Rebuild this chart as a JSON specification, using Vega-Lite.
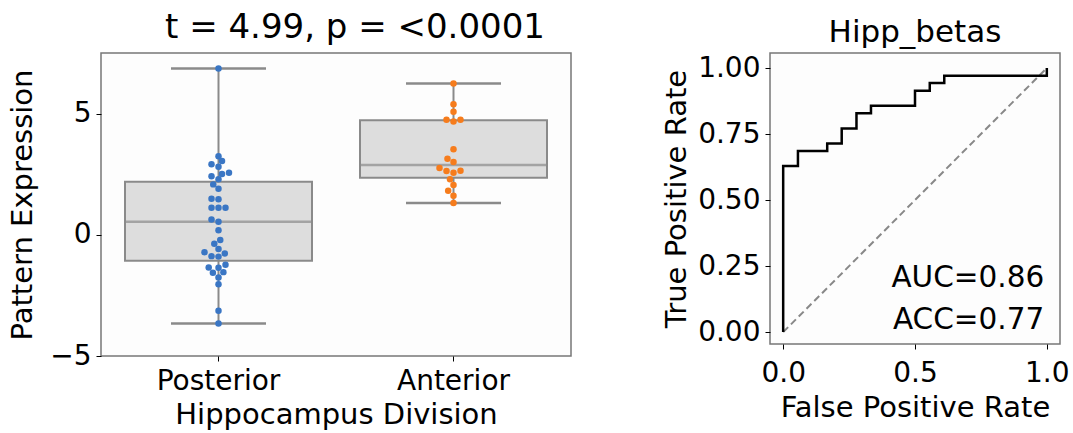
{
  "$schema": "https://vega.github.io/schema/vega-lite/v6.json",
  "background": "white",
  "padding": {"left": 7, "top": 10, "right": 3, "bottom": 3},
  "config": {
    "font": "DejaVu Sans",
    "view": {"stroke": "#777777", "strokeWidth": 1.5, "fill": "#fdfdfd"},
    "axis": {
      "domain": false,
      "grid": false,
      "tickColor": "#000000",
      "tickSize": 5,
      "tickWidth": 1,
      "labelColor": "#000000",
      "labelFont": "DejaVu Sans",
      "labelFontSize": 28,
      "titleFont": "DejaVu Sans",
      "titleFontSize": 29,
      "titleFontWeight": "normal",
      "titleColor": "#000000"
    },
    "title": {"font": "DejaVu Sans", "fontWeight": "normal", "color": "#000000"}
  },
  "spacing": 89,
  "datasets": {
    "pattern": [
      {"division": "Posterior", "value": 6.86, "slot": 0},
      {"division": "Posterior", "value": 3.24, "slot": 0},
      {"division": "Posterior", "value": 3.04, "slot": 0.5},
      {"division": "Posterior", "value": 2.91, "slot": -1},
      {"division": "Posterior", "value": 2.81, "slot": 0},
      {"division": "Posterior", "value": 2.56, "slot": 1.5},
      {"division": "Posterior", "value": 2.51, "slot": 0.5},
      {"division": "Posterior", "value": 2.42, "slot": -1},
      {"division": "Posterior", "value": 2.29, "slot": 0},
      {"division": "Posterior", "value": 2.08, "slot": -0.75},
      {"division": "Posterior", "value": 1.9, "slot": 0},
      {"division": "Posterior", "value": 1.49, "slot": -1},
      {"division": "Posterior", "value": 1.47, "slot": 0},
      {"division": "Posterior", "value": 1.12, "slot": -1},
      {"division": "Posterior", "value": 1.12, "slot": 0},
      {"division": "Posterior", "value": 1.12, "slot": 1},
      {"division": "Posterior", "value": 0.63, "slot": -1},
      {"division": "Posterior", "value": 0.54, "slot": 0},
      {"division": "Posterior", "value": 0.19, "slot": 0},
      {"division": "Posterior", "value": -0.21, "slot": 0.25},
      {"division": "Posterior", "value": -0.37, "slot": -0.6},
      {"division": "Posterior", "value": -0.59, "slot": 0},
      {"division": "Posterior", "value": -0.72, "slot": -2},
      {"division": "Posterior", "value": -0.77, "slot": 0.9},
      {"division": "Posterior", "value": -0.88, "slot": -1},
      {"division": "Posterior", "value": -0.9, "slot": 0},
      {"division": "Posterior", "value": -1.24, "slot": 1},
      {"division": "Posterior", "value": -1.35, "slot": -1.4},
      {"division": "Posterior", "value": -1.36, "slot": 0},
      {"division": "Posterior", "value": -1.54, "slot": 0.7},
      {"division": "Posterior", "value": -1.57, "slot": -0.8},
      {"division": "Posterior", "value": -1.76, "slot": 0},
      {"division": "Posterior", "value": -2.04, "slot": 0},
      {"division": "Posterior", "value": -3.13, "slot": 0},
      {"division": "Posterior", "value": -3.66, "slot": 0},
      {"division": "Anterior", "value": 6.24, "slot": 0},
      {"division": "Anterior", "value": 5.39, "slot": 0},
      {"division": "Anterior", "value": 5.08, "slot": 0},
      {"division": "Anterior", "value": 4.75, "slot": -1},
      {"division": "Anterior", "value": 4.75, "slot": 1},
      {"division": "Anterior", "value": 4.67, "slot": 0},
      {"division": "Anterior", "value": 3.53, "slot": 0},
      {"division": "Anterior", "value": 3.14, "slot": -0.86},
      {"division": "Anterior", "value": 3.0, "slot": 0},
      {"division": "Anterior", "value": 2.76, "slot": -2},
      {"division": "Anterior", "value": 2.63, "slot": -1},
      {"division": "Anterior", "value": 2.64, "slot": 1},
      {"division": "Anterior", "value": 2.56, "slot": 0},
      {"division": "Anterior", "value": 2.29, "slot": -0.5},
      {"division": "Anterior", "value": 2.05, "slot": 0},
      {"division": "Anterior", "value": 1.82, "slot": -0.76},
      {"division": "Anterior", "value": 1.61, "slot": 0},
      {"division": "Anterior", "value": 1.31, "slot": 0}
    ],
    "roc": [
      {"step": 0, "fpr": 0.0, "tpr": 0.0},
      {"step": 1, "fpr": 0.0, "tpr": 0.629},
      {"step": 2, "fpr": 0.056, "tpr": 0.629},
      {"step": 3, "fpr": 0.056, "tpr": 0.686},
      {"step": 4, "fpr": 0.167, "tpr": 0.686},
      {"step": 5, "fpr": 0.167, "tpr": 0.714},
      {"step": 6, "fpr": 0.222, "tpr": 0.714},
      {"step": 7, "fpr": 0.222, "tpr": 0.771},
      {"step": 8, "fpr": 0.278, "tpr": 0.771},
      {"step": 9, "fpr": 0.278, "tpr": 0.829},
      {"step": 10, "fpr": 0.333, "tpr": 0.829},
      {"step": 11, "fpr": 0.333, "tpr": 0.857},
      {"step": 12, "fpr": 0.5, "tpr": 0.857},
      {"step": 13, "fpr": 0.5, "tpr": 0.914},
      {"step": 14, "fpr": 0.556, "tpr": 0.914},
      {"step": 15, "fpr": 0.556, "tpr": 0.943},
      {"step": 16, "fpr": 0.611, "tpr": 0.943},
      {"step": 17, "fpr": 0.611, "tpr": 0.971},
      {"step": 18, "fpr": 1.0, "tpr": 0.971},
      {"step": 19, "fpr": 1.0, "tpr": 1.0}
    ],
    "chance": [
      {"fpr": 0, "tpr": 0},
      {"fpr": 1, "tpr": 1}
    ],
    "metrics": [
      {"label": "AUC=0.86", "fpr": 0.99, "tpr": 0.17},
      {"label": "ACC=0.77", "fpr": 0.99, "tpr": 0.01}
    ]
  },
  "hconcat": [
    {
      "width": 470,
      "height": 303,
      "title": {"text": "t = 4.99, p = <0.0001", "fontSize": 34, "offset": 8, "dx": 19},
      "data": {"name": "pattern"},
      "encoding": {
        "x": {
          "field": "division",
          "type": "nominal",
          "sort": ["Posterior", "Anterior"],
          "scale": {"paddingInner": 0, "paddingOuter": 0},
          "axis": {"title": "Hippocampus Division", "labelAngle": 0, "labelPadding": 6, "titlePadding": 5}
        },
        "y": {
          "field": "value",
          "type": "quantitative",
          "scale": {"domain": [-5, 7.5], "nice": false, "zero": false},
          "axis": {"values": [-5, 0, 5], "title": "Pattern Expression", "titlePadding": 12, "labelPadding": 5}
        }
      },
      "layer": [
        {
          "mark": {
            "type": "boxplot",
            "extent": "min-max",
            "size": 187,
            "box": {"fill": "#dddddd", "stroke": "#8a8a8a", "strokeWidth": 2},
            "median": {"color": "#8a8a8a", "thickness": 2.5},
            "rule": {"color": "#8a8a8a", "strokeWidth": 2},
            "ticks": {"color": "#8a8a8a", "size": 95, "thickness": 2.5}
          }
        },
        {
          "mark": {"type": "circle", "size": 42, "opacity": 1},
          "encoding": {
            "xOffset": {
              "field": "slot",
              "type": "quantitative",
              "scale": {"domain": [-2, 2], "range": [103.5, 131.5]}
            },
            "color": {
              "field": "division",
              "type": "nominal",
              "scale": {"domain": ["Posterior", "Anterior"], "range": ["#3a76c4", "#f67c1c"]},
              "legend": null
            }
          }
        }
      ]
    },
    {
      "width": 290,
      "height": 291,
      "title": {"text": "Hipp_betas", "fontSize": 31, "offset": 4},
      "encoding": {
        "x": {
          "field": "fpr",
          "type": "quantitative",
          "scale": {"domain": [-0.05, 1.05], "nice": false, "zero": false},
          "axis": {"values": [0, 0.5, 1], "format": ".1f", "title": "False Positive Rate", "labelPadding": 10, "titlePadding": 6}
        },
        "y": {
          "field": "tpr",
          "type": "quantitative",
          "scale": {"domain": [-0.045, 1.057], "nice": false, "zero": false},
          "axis": {"values": [0, 0.25, 0.5, 0.75, 1], "format": ".2f", "title": "True Positive Rate", "labelPadding": 5, "titlePadding": 6}
        }
      },
      "layer": [
        {
          "data": {"name": "chance"},
          "mark": {"type": "line", "color": "#888888", "strokeWidth": 2, "strokeDash": [7, 4]}
        },
        {
          "data": {"name": "roc"},
          "mark": {"type": "line", "color": "#000000", "strokeWidth": 2.5},
          "encoding": {"order": {"field": "step", "type": "quantitative"}}
        },
        {
          "data": {"name": "metrics"},
          "mark": {"type": "text", "align": "right", "baseline": "alphabetic", "fontSize": 29.5, "font": "DejaVu Sans", "color": "#000000"},
          "encoding": {"text": {"field": "label"}}
        }
      ]
    }
  ]
}
